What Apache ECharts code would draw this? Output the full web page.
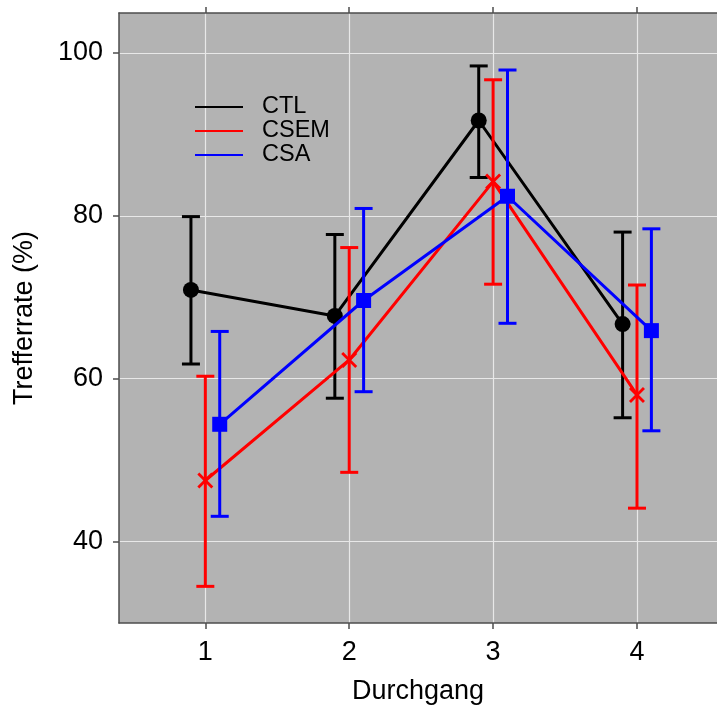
<!DOCTYPE html>
<html>
<head>
<meta charset="utf-8">
<script src="https://cdn.jsdelivr.net/npm/echarts@6/dist/echarts.min.js"></script>
<style>html,body{margin:0;padding:0;background:#fff;overflow:hidden;}#c{width:717px;height:710px;}</style>
</head>
<body>
<div id="c"></div>
<script>
// ---- data ----
var durchgang = [1, 2, 3, 4];
var groups = ['CTL', 'CSEM', 'CSA'];
var ctlMean = [70.9, 67.7, 91.7, 66.7];
var ctlLow  = [61.8, 57.6, 84.7, 55.2];
var ctlHigh = [79.9, 77.7, 98.4, 78.0];
var csemMean = [47.5, 62.3, 84.2, 58.0];
var csemLow  = [34.5, 48.5, 71.6, 44.1];
var csemHigh = [60.3, 76.1, 96.7, 71.5];
var csaMean = [54.4, 69.6, 82.4, 65.9];
var csaLow  = [43.1, 58.4, 66.8, 53.6];
var csaHigh = [65.8, 80.9, 97.9, 78.4];
var yTicks = [40, 60, 80, 100];
var xTicks = [1, 2, 3, 4];

// ---- styling / layout ----
var dodge = [-0.1, 0, 0.1];
var colors = ['#000000', '#FF0000', '#0000FF'];
var FONT = '"Liberation Sans", Arial, Helvetica, sans-serif';
var crossPath = 'path://M0,2 L2,0 L8,6 L14,0 L16,2 L10,8 L16,14 L14,16 L8,10 L2,16 L0,14 L6,8 Z';
var symbols = ['circle', crossPath, 'rect'];
var symbolSizes = [16, 16, 15];

var means = [ctlMean, csemMean, csaMean];
var lows = [ctlLow, csemLow, csaLow];
var highs = [ctlHigh, csemHigh, csaHigh];

var series = [];
groups.forEach(function (g, gi) {
  var lineData = durchgang.map(function (d, i) { return [d + dodge[gi], means[gi][i]]; });
  var errData = durchgang.map(function (d, i) { return [d + dodge[gi], lows[gi][i], highs[gi][i]]; });
  series.push({
    type: 'custom',
    name: g,
    xAxisIndex: 0, yAxisIndex: 0,
    data: errData,
    z: 3 + gi * 2,
    silent: true,
    renderItem: function (params, api) {
      var x = api.value(0);
      var lo = api.coord([x, api.value(1)]);
      var hi = api.coord([x, api.value(2)]);
      var w = 9;
      var st = { stroke: colors[gi], lineWidth: 3 };
      return {
        type: 'group',
        children: [
          { type: 'line', shape: { x1: lo[0], y1: lo[1], x2: hi[0], y2: hi[1] }, style: st },
          { type: 'line', shape: { x1: lo[0] - w, y1: lo[1], x2: lo[0] + w, y2: lo[1] }, style: st },
          { type: 'line', shape: { x1: hi[0] - w, y1: hi[1], x2: hi[0] + w, y2: hi[1] }, style: st }
        ]
      };
    }
  });
  series.push({
    type: 'line',
    name: g,
    xAxisIndex: 0, yAxisIndex: 0,
    data: lineData,
    z: 4 + gi * 2,
    symbol: symbols[gi],
    symbolSize: symbolSizes[gi],
    showAllSymbol: true,
    color: colors[gi],
    itemStyle: { color: colors[gi], borderWidth: 0 },
    lineStyle: { color: colors[gi], width: 3 },
    emphasis: { disabled: true }
  });
});

var tickStyle = { show: true, length: 6, inside: false, lineStyle: { color: '#4d4d4d', width: 1.5 } };
var frameLine = { show: true, onZero: false, lineStyle: { color: '#4d4d4d', width: 1.5 } };

var option = {
  animation: false,
  backgroundColor: '#ffffff',
  grid: {
    left: 119, right: 0, top: 13, bottom: 83,
    show: true, backgroundColor: '#B3B3B3', borderWidth: 0
  },
  legend: {
    orient: 'vertical',
    left: 190, top: 90,
    itemWidth: 48, itemHeight: 2, itemGap: 0,
    icon: 'rect',
    data: groups.map(function (g, gi) { return { name: g, itemStyle: { color: colors[gi] } }; }),
    textStyle: { fontFamily: FONT, fontSize: 23.5, color: '#000', lineHeight: 23.7, padding: [0, 0, 0, 14] },
    selectedMode: false
  },
  xAxis: [{
    type: 'value', position: 'bottom', min: 0.4, max: 4.556,
    axisLine: frameLine,
    axisTick: Object.assign({ customValues: xTicks }, tickStyle),
    axisLabel: { customValues: xTicks, fontFamily: FONT, fontSize: 27, color: '#000', margin: 16 },
    splitLine: { show: true, lineStyle: { color: '#E8E8E8', width: 1.2 } },
    name: 'Durchgang', nameLocation: 'middle', nameGap: 55,
    nameTextStyle: { fontFamily: FONT, fontSize: 27, color: '#000' }
  }, {
    type: 'value', position: 'top', min: 0.4, max: 4.556,
    axisLine: frameLine,
    axisTick: Object.assign({ customValues: xTicks }, tickStyle),
    axisLabel: { show: false },
    splitLine: { show: false }
  }],
  yAxis: [{
    type: 'value', min: 30, max: 104.9,
    axisLine: frameLine,
    axisTick: Object.assign({ customValues: yTicks }, tickStyle),
    axisLabel: { customValues: yTicks, fontFamily: FONT, fontSize: 27, color: '#000', margin: 16, padding: [5, 0, 0, 0] },
    splitLine: { show: true, lineStyle: { color: '#E8E8E8', width: 1.2 } },
    name: 'Trefferrate (%)', nameLocation: 'middle', nameGap: 81, nameRotate: 90,
    nameTextStyle: { fontFamily: FONT, fontSize: 27, color: '#000' }
  }],
  series: series
};

var chart = echarts.init(document.getElementById('c'), null, { renderer: 'canvas' });
chart.setOption(option);
</script>
</body>
</html>
